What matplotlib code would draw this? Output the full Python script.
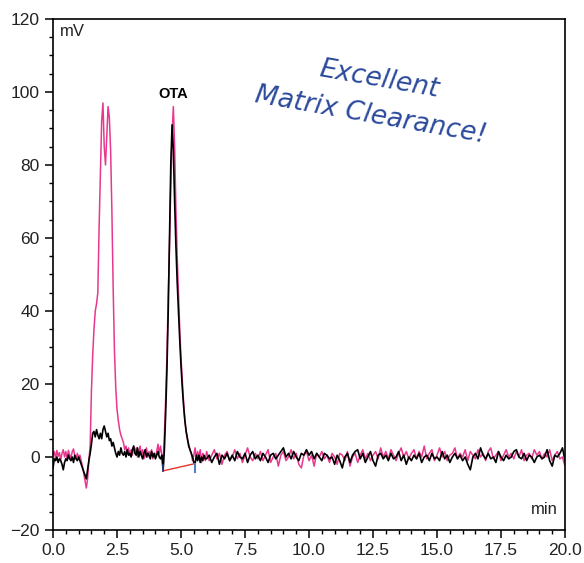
import numpy as np
import matplotlib
matplotlib.use("Agg")
import matplotlib.pyplot as plt
from matplotlib.ticker import MultipleLocator

plt.rcParams['font.family'] = ['Liberation Sans', 'DejaVu Sans']

# time grids: fine around the peaks, coarser for the flat baseline
t_fine = np.round(np.arange(0, 120) * 0.05, 2)        # 0.00 .. 5.95
t_coarse = np.round(6.0 + np.arange(0, 141) * 0.1, 2)  # 6.0 .. 20.0
t = np.concatenate([t_fine, t_coarse])

# pink trace (matrix sample) in mV
pink_fine = [
    0.5, 1.5, -0.5, 1.8, 0.2, 1.2, -0.8, 1.0, 2.0, 0.0, 1.5, -0.5, 1.8, 0.5, -0.3,
    1.5, 2.2, 0.3, -0.6, 1.0, -0.2, 0.5, -1.0, -2.5, -4.5,
    -6.5, -8.5, -6.0, -1.0, 3.0, 18, 28, 35, 40, 42, 45, 63, 78, 92, 97,
    85, 80, 88, 96, 93, 84, 67, 46, 29, 19, 13, 10, 7.5, 6, 5, 4, 2, 3, 1, 2.5,
    0.5, 2.0, 0.5, 3.0, 1.0, 2.5, 0.0, 1.5, 3.0, 0.5, 2.0, -0.5, 1.0, 2.5, 0.0,
    1.5, 0.5, 2.0, -0.5, 1.0, 0.0, 1.5, 3.5, 1.0, 3.0, 0.5,
    -2.0, 6, 16, 28, 44, 58, 74, 88, 96, 85, 68, 55, 45, 35, 27, 21, 15, 10, 7, 5,
    3.5, 2, 1, -1, 0.5, 2.5, -0.5, 1.5, 0, 2, -1.5, 1.0, 0.0, -1.0,
]
pink_coarse = [
    1.5, -1.0, 0.5, 2.0, -0.5, 1.0, -2.0, 0.5, 1.5, -1.0,
    0.0, 2.0, -0.5, 1.0, -1.5, 0.5, 2.5, 0.0, -1.0, 1.0,
    -0.5, 1.5, -1.0, 0.5, 2.0, -1.5, 0.0, 1.0, -2.5, 0.5,
    1.5, -1.0, 0.0, 2.0, -0.5, 1.0, -2.0, -3.0, 0.5, 1.5,
    -1.0, 0.5, -2.5, 1.0, 0.0, 1.5, -0.5, 0.5, -1.5, 1.0,
    0.0, -2.0, 1.0, 0.5, -1.0, 1.5, -2.5, 0.0, 1.0, -1.5,
    0.5, 2.0, -0.5, 1.0, -1.0, 0.5, 1.5, -0.5, 2.5, 0.0,
    1.5, -0.5, 2.0, 0.5, -1.0, 1.0, 2.5, 0.0, 1.5, -0.5,
    1.0, 2.0, -0.5, 1.5, 0.0, 3.0, -0.5, 1.0, 2.0, -1.0,
    0.5, 2.5, 0.0, 1.5, -1.0, 0.5, 1.0, 2.5, -0.5, 1.0,
    0.0, 2.0, -1.0, 1.5, 0.5, -0.5, 2.0, 0.0, 1.0, -1.0,
    1.5, 2.5, -0.5, 0.5, 1.5, -1.0, 0.5, 2.0, 0.0, 1.0,
    -0.5, 1.5, 0.0, 2.0, -1.0, 0.5, 1.0, -0.5, 2.0, 0.5,
    1.5, -0.5, 1.0, 0.0, 2.0, -1.0, 0.5, 1.5, -0.5, 0.0,
    -2.5,
]

# black trace (standard) in mV
black_fine = [
    -3.0, -0.5, -1.0, 0.0, -1.5, -0.5, -1.0, -2.0, -3.5, -1.5, -0.5, -1.0, 0.5, -0.5, -1.0,
    0.0, -1.5, 0.5, -0.5, -1.0, 0.0, -1.0, -2.0, -3.0, -4.0,
    -5.0, -6.0, -3.5, -1.0, 1.0, 3.5, 6.5, 7.0, 5.5, 7.5, 6.0, 5.0, 6.5, 5.0, 7.5,
    8.5, 7.0, 5.5, 6.5, 4.5, 5.0, 3.0, 4.0, 2.5, 1.0, 0.0, 1.5, 0.5, 2.5, 1.0,
    0.5, 1.5, 0.0, 2.0, 0.5,
    1.0, 0.0, 2.0, 3.0, 1.0, 0.5, 2.5, 0.0, 1.5, 0.5, -0.5, 1.0, 2.0, 0.0, 1.0,
    0.5, -0.5, 1.5, 0.0, 1.0, -0.5, 0.5, 1.5, 0.0, -0.5, 0.5,
    -3.8, 2, 12, 24, 40, 60, 80, 91, 84, 70, 58, 48, 40, 32, 25, 19, 14, 10, 7, 5,
    3, 2, 1, 0, -1.5, -1.8, 0.5, -1.0, 0.5, -1.5, 0.0, -1.0, 0.5, -0.5,
]
black_coarse = [
    -0.5, 0.5, -1.5, 0.0, 1.0, -2.0, 0.5, -0.5, 1.0, -1.0,
    0.5, -1.0, 1.5, 0.0, -0.5, 1.0, -1.5, 0.5, 1.5, -0.5,
    0.5, -1.0, 1.0, 0.0, -1.5, 0.5, 1.0, -0.5, 0.5, 1.5,
    2.5, 0.0, 1.0, -0.5, 1.5, 0.0, -1.0, 1.0, 0.5, 2.0,
    0.5, 1.5, -0.5, 1.0, 0.0, -1.0, 1.0, 0.5, -0.5, 0.0,
    -2.0, 0.5, -1.0, -3.0, 0.0, 1.0, -1.5, 0.5, 1.5, 2.0,
    -0.5, 1.0, -1.5, 0.0, 1.5, -1.0, -2.5, 0.5, 1.0, -0.5,
    0.5, -1.0, 1.0, -0.5, 0.0, 1.5, -1.0, 0.5, -2.0, 0.0,
    -1.0, 0.5, -0.5, 1.0, -1.5, 0.0, 0.5, -1.0, 1.0, -0.5,
    0.0, -1.0, 1.5, -0.5, 0.5, -1.5, 0.0, 1.0, -0.5, 0.5,
    -1.0, 0.0, -2.0, -3.5, 0.0, 1.0, -0.5, 2.5, 0.5, -0.5,
    1.0, -0.5, 0.0, -1.5, 1.5, 0.0, -1.0, 0.5, -0.5, 0.0,
    1.5, 2.0, 0.0, -0.5, 1.0, -1.0, 0.5, 0.0, -1.5, 0.0,
    0.5, -0.5, 0.0, 2.0, -1.0, -2.5, 0.5, 0.0, 1.0, 2.5,
    -1.0,
]

pink = np.array(pink_fine + pink_coarse)
black = np.array(black_fine + black_coarse)

# integration baseline of the OTA peak
base_t = [4.30, 5.55]
base_v = [-3.8, -1.8]

fig = plt.figure(figsize=(5.84, 5.63), dpi=100)
ax = fig.add_axes([0.0908, 0.0586, 0.8767, 0.9077])

ax.plot(t, pink, color='#E8388E', lw=1.1)
ax.plot(t, black, color='black', lw=1.2)
ax.plot(base_t, base_v, color='#E8352A', lw=1.0)
ax.plot([base_t[1], base_t[1]], [base_v[1], base_v[1] - 2.3], color='#5B7BC0', lw=1.5)
ax.plot([base_t[0], base_t[0]], [base_v[0], base_v[0] + 1.5], color='#2B3F7A', lw=1.2)

ax.set_xlim(0, 20)
ax.set_ylim(-20, 120)
ax.xaxis.set_major_locator(MultipleLocator(2.5))
ax.xaxis.set_minor_locator(MultipleLocator(0.5))
ax.yaxis.set_major_locator(MultipleLocator(20))
ax.yaxis.set_minor_locator(MultipleLocator(5))
ax.xaxis.set_major_formatter(matplotlib.ticker.FormatStrFormatter('%.1f'))
ax.tick_params(which='major', length=6, width=1.1, labelsize=12.5, direction='out',
               labelcolor='#222222')
ax.tick_params(which='minor', length=3, width=1.0, direction='out')
for s in ax.spines.values():
    s.set_linewidth(1.2)

ax.text(0.25, 118.5, 'mV', fontsize=12, ha='left', va='top', color='#222222')
ax.text(19.7, -16.5, 'min', fontsize=12, ha='right', va='bottom', color='#222222')
ax.text(4.68, 97.5, 'OTA', fontsize=10.5, ha='center', va='bottom', fontweight='bold')

ax.text(12.73, 103.5, 'Excellent', fontsize=19, color='#2B4A9B', style='italic',
        rotation=-10, rotation_mode='anchor', ha='center', va='center',
        family=['DejaVu Sans'])
ax.text(12.42, 93.5, 'Matrix Clearance!', fontsize=19, color='#2B4A9B', style='italic',
        rotation=-10, rotation_mode='anchor', ha='center', va='center',
        family=['DejaVu Sans'])

fig.savefig('out.png', dpi=100)
